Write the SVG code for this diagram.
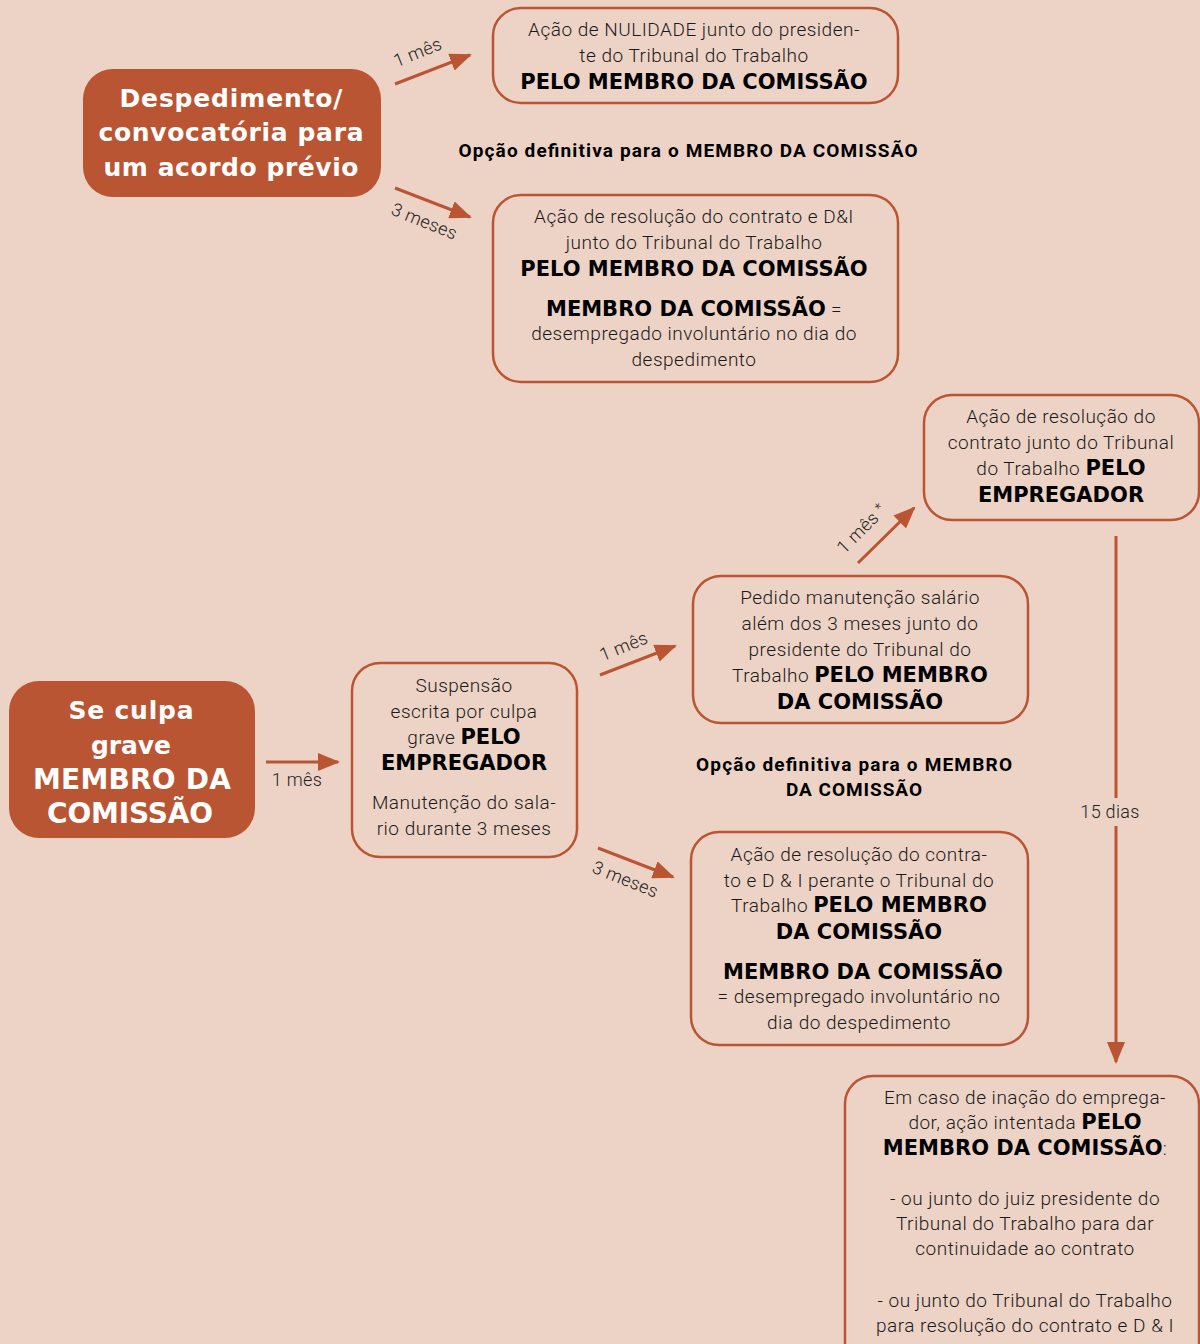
<svg xmlns="http://www.w3.org/2000/svg" width="1200" height="1344" viewBox="0 0 1200 1344">
<defs>
<style>
.bg{fill:#EDD3C6}
.box{fill:#EDD3C6;stroke:#BA5533;stroke-width:2.5}
.fill{fill:#BA5533}
.t{font-family:Roboto,"Liberation Sans",sans-serif;font-weight:300;font-size:19px;letter-spacing:0.5px;fill:#1a1a1a;text-anchor:middle}
.b{font-family:"DejaVu Sans","Liberation Sans",sans-serif;font-weight:bold;font-size:21px;letter-spacing:0;fill:#000}
.w{font-family:"DejaVu Sans","Liberation Sans",sans-serif;font-weight:bold;font-size:25px;fill:#fff;text-anchor:middle}
.w2{font-size:28px}
.h{font-family:Roboto,"Liberation Sans",sans-serif;font-weight:bold;font-size:19px;fill:#000;text-anchor:middle}
.l{font-family:Roboto,"Liberation Sans",sans-serif;font-weight:300;font-size:18px;letter-spacing:0.3px;fill:#222;text-anchor:middle}
.c{stroke:#BA5533;stroke-width:3;fill:none}
</style>
<marker id="ah" markerUnits="userSpaceOnUse" markerWidth="22" markerHeight="18" refX="20" refY="9" orient="auto">
<path d="M0,0 L22,9 L0,18 Z" fill="#BA5533"/>
</marker>
</defs>
<rect class="bg" x="0" y="0" width="1200" height="1344"/>

<g id="connectors">
<line class="c" x1="395" y1="84" x2="470" y2="55" marker-end="url(#ah)"/>
<line class="c" x1="395" y1="188" x2="470" y2="217" marker-end="url(#ah)"/>
<line class="c" x1="266" y1="762" x2="338" y2="762" marker-end="url(#ah)"/>
<line class="c" x1="600" y1="675" x2="675" y2="646" marker-end="url(#ah)"/>
<line class="c" x1="598" y1="848" x2="673" y2="877" marker-end="url(#ah)"/>
<line class="c" x1="858" y1="563" x2="914" y2="508" marker-end="url(#ah)"/>
<line class="c" x1="1116" y1="536" x2="1116" y2="798"/>
<line class="c" x1="1116" y1="826" x2="1116" y2="1062" marker-end="url(#ah)"/>
<text class="l" transform="translate(420,58) rotate(-22)">1 mês</text>
<text class="l" transform="translate(422,227) rotate(22)">3 meses</text>
<text class="l" x="297" y="786">1 mês</text>
<text class="l" transform="translate(626,652) rotate(-22)">1 mês</text>
<text class="l" transform="translate(623,885) rotate(22)">3 meses</text>
<text class="l" transform="translate(866,533) rotate(-45)">1 mês <tspan dy="-4" font-size="14">*</tspan></text>
<text class="l" x="1110" y="818">15 dias</text>
</g>

<g id="despedimento">
<rect class="fill" x="83" y="69" width="298" height="128" rx="30"/>
<text class="w" x="231" y="107" textLength="223" lengthAdjust="spacing">Despedimento/</text>
<text class="w" x="231" y="141" textLength="265" lengthAdjust="spacing">convocatória para</text>
<text class="w" x="231" y="176" textLength="255" lengthAdjust="spacing">um acordo prévio</text>
</g>

<g id="nulidade">
<rect class="box" x="493" y="8" width="405" height="95" rx="28"/>
<text class="t" x="694" y="36">Ação de NULIDADE junto do presiden-</text>
<text class="t" x="694" y="62">te do Tribunal do Trabalho</text>
<text class="t b" x="694" y="89">PELO MEMBRO DA COMISSÃO</text>
</g>

<text class="h" x="688" y="157" textLength="459" lengthAdjust="spacing">Opção definitiva para o MEMBRO DA COMISSÃO</text>

<g id="resolucao1">
<rect class="box" x="493" y="195" width="405" height="187" rx="28"/>
<text class="t" x="694" y="223">Ação de resolução do contrato e D&amp;I</text>
<text class="t" x="694" y="249">junto do Tribunal do Trabalho</text>
<text class="t b" x="694" y="276">PELO MEMBRO DA COMISSÃO</text>
<text class="t" x="694" y="316"><tspan class="b">MEMBRO DA COMISSÃO</tspan> =</text>
<text class="t" x="694" y="340">desempregado involuntário no dia do</text>
<text class="t" x="694" y="366">despedimento</text>
</g>

<g id="resolucao-empregador">
<rect class="box" x="924" y="395" width="275" height="125" rx="28"/>
<text class="t" x="1061" y="423">Ação de resolução do</text>
<text class="t" x="1061" y="449">contrato junto do Tribunal</text>
<text class="t" x="1061" y="475">do Trabalho <tspan class="b">PELO</tspan></text>
<text class="t b" x="1061" y="502">EMPREGADOR</text>
</g>

<g id="pedido">
<rect class="box" x="693" y="576" width="335" height="147" rx="28"/>
<text class="t" x="860" y="604">Pedido manutenção salário</text>
<text class="t" x="860" y="630">além dos 3 meses junto do</text>
<text class="t" x="860" y="656">presidente do Tribunal do</text>
<text class="t" x="860" y="682">Trabalho <tspan class="b">PELO MEMBRO</tspan></text>
<text class="t b" x="860" y="709">DA COMISSÃO</text>
</g>

<text class="h" x="854" y="771" textLength="316" lengthAdjust="spacing">Opção definitiva para o MEMBRO</text>
<text class="h" x="854" y="796" textLength="136" lengthAdjust="spacing">DA COMISSÃO</text>

<g id="resolucao2">
<rect class="box" x="691" y="832" width="337" height="213" rx="28"/>
<text class="t" x="859" y="861">Ação de resolução do contra-</text>
<text class="t" x="859" y="887">to e D &amp; I perante o Tribunal do</text>
<text class="t" x="859" y="912">Trabalho <tspan class="b">PELO MEMBRO</tspan></text>
<text class="t b" x="859" y="939">DA COMISSÃO</text>
<text class="t b" x="863" y="979">MEMBRO DA COMISSÃO</text>
<text class="t" x="859" y="1003">= desempregado involuntário no</text>
<text class="t" x="859" y="1029">dia do despedimento</text>
</g>

<g id="culpa">
<rect class="fill" x="9" y="681" width="246" height="157" rx="30"/>
<text class="w" x="131" y="719" textLength="125" lengthAdjust="spacing">Se culpa</text>
<text class="w" x="131" y="754" textLength="80" lengthAdjust="spacing">grave</text>
<text class="w w2" x="132" y="789" textLength="198" lengthAdjust="spacing">MEMBRO DA</text>
<text class="w w2" x="130" y="823" textLength="166" lengthAdjust="spacing">COMISSÃO</text>
</g>

<g id="suspensao">
<rect class="box" x="352" y="663" width="225" height="194" rx="28"/>
<text class="t" x="464" y="692">Suspensão</text>
<text class="t" x="464" y="718">escrita por culpa</text>
<text class="t" x="464" y="744">grave <tspan class="b">PELO</tspan></text>
<text class="t b" x="464" y="770">EMPREGADOR</text>
<text class="t" x="464" y="809">Manutenção do sala-</text>
<text class="t" x="464" y="835">rio durante 3 meses</text>
</g>

<g id="inacao">
<rect class="box" x="845" y="1076" width="354" height="300" rx="28"/>
<text class="t" x="1025" y="1104">Em caso de inação do emprega-</text>
<text class="t" x="1025" y="1129">dor, ação intentada <tspan class="b">PELO</tspan></text>
<text class="t" x="1025" y="1155"><tspan class="b">MEMBRO DA COMISSÃO</tspan>:</text>
<text class="t" x="1025" y="1205">- ou junto do juiz presidente do</text>
<text class="t" x="1025" y="1230">Tribunal do Trabalho para dar</text>
<text class="t" x="1025" y="1255">continuidade ao contrato</text>
<text class="t" x="1025" y="1307">- ou junto do Tribunal do Trabalho</text>
<text class="t" x="1025" y="1332">para resolução do contrato e D &amp; I</text>
</g>
</svg>
